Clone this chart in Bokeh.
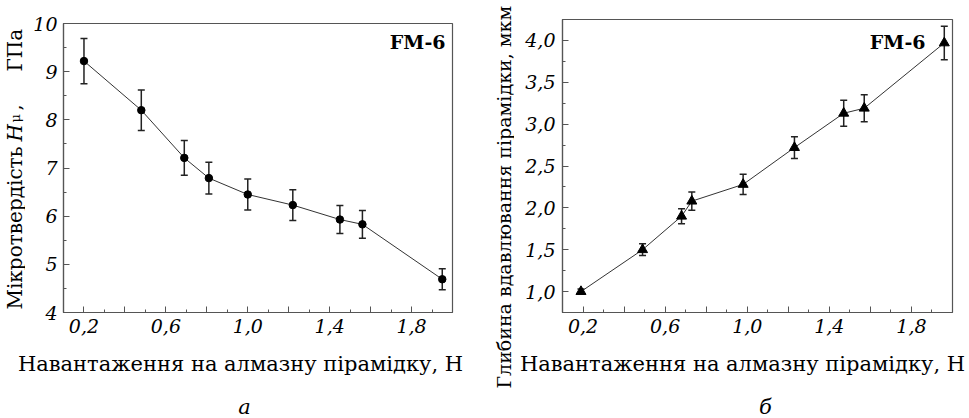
import math
from bokeh.plotting import figure
from bokeh.models import (ColumnDataSource, Whisker, TeeHead, FixedTicker,
                          CustomJSTickFormatter, Label, Range1d)
from bokeh.layouts import row, column
from bokeh.embed import file_html
from bokeh.resources import INLINE

# ---- data (panel а): microhardness vs load ----
load_a = [0.20, 0.48, 0.69, 0.81, 1.00, 1.22, 1.45, 1.56, 1.95]
hardness = [9.22, 8.20, 7.21, 6.79, 6.45, 6.23, 5.93, 5.83, 4.69]
hardness_err = [0.47, 0.42, 0.36, 0.33, 0.32, 0.32, 0.29, 0.29, 0.22]

# ---- data (panel б): indentation depth vs load ----
load_b = [0.19, 0.49, 0.68, 0.73, 0.98, 1.23, 1.47, 1.57, 1.96]
depth = [1.00, 1.50, 1.90, 2.08, 2.28, 2.72, 3.13, 3.19, 3.97]
depth_err = [0.03, 0.07, 0.09, 0.11, 0.12, 0.13, 0.155, 0.16, 0.20]

# ---- ticks ----
x_major = [0.2, 0.4, 0.6, 0.8, 1.0, 1.2, 1.4, 1.6, 1.8]
x_minor = [0.1, 0.3, 0.5, 0.7, 0.9, 1.1, 1.3, 1.5, 1.7, 1.9]
ya_major = [4, 5, 6, 7, 8, 9, 10]
ya_minor = [4.5, 5.5, 6.5, 7.5, 8.5, 9.5]
yb_major = [1.0, 1.5, 2.0, 2.5, 3.0, 3.5, 4.0]
yb_minor = [0.75, 1.25, 1.75, 2.25, 2.75, 3.25, 3.75, 4.25]

sample_name = "FM-6"
x_title = "Навантаження на алмазну пірамідку, Н"
ya_title_parts = ["Мікротвердість", "H", "μ", ",", "ГПа"]
yb_title = "Глибина вдавлювання пірамідки, мкм"
captions = ["а", "б"]

SERIF = "DejaVu Serif"
AX = "#555555"
TOP_H = 345
BOT_H = 418 - TOP_H
SHIFT = 6  # Label baseline correction (px)


def make_panel(width, height, xr, yr, yticks, yminor, yfmt, borders):
    left, right, top, bottom = borders
    p = figure(width=width, height=height, x_range=Range1d(*xr), y_range=Range1d(*yr),
               output_backend="svg", toolbar_location=None, frame_align=False,
               min_border_left=left, min_border_right=right,
               min_border_top=top, min_border_bottom=bottom)
    p.xgrid.visible = False
    p.ygrid.visible = False
    p.outline_line_color = AX
    p.outline_line_width = 1.2
    p.background_fill_color = "white"
    p.border_fill_color = "white"

    p.xaxis.ticker = FixedTicker(ticks=x_major, minor_ticks=x_minor)
    p.xaxis.formatter = CustomJSTickFormatter(
        code="return (Math.round(tick*10) % 4 == 2) ? tick.toFixed(1).replace('.', ',') : '';")
    p.yaxis.ticker = FixedTicker(ticks=yticks, minor_ticks=yminor)
    p.yaxis.formatter = CustomJSTickFormatter(code=yfmt)

    for ax in (p.xaxis, p.yaxis):
        ax.axis_line_color = AX
        ax.axis_line_width = 1.2
        ax.major_tick_line_color = AX
        ax.minor_tick_line_color = AX
        ax.major_tick_in = 6
        ax.major_tick_out = 0
        ax.minor_tick_in = 3
        ax.minor_tick_out = 0
        ax.major_label_text_font = SERIF
        ax.major_label_text_font_style = "italic"
        ax.major_label_text_font_size = "19px"
        ax.major_label_text_color = "black"
    p.xaxis.major_label_standoff = 6
    p.yaxis.major_label_standoff = 6
    return p


def text_strip(width, height):
    s = figure(width=width, height=height, x_range=Range1d(0, width), y_range=Range1d(0, height),
               output_backend="svg", toolbar_location=None, frame_align=False,
               min_border_left=0, min_border_right=0, min_border_top=0, min_border_bottom=0,
               x_axis_type=None, y_axis_type=None)
    s.xgrid.visible = False
    s.ygrid.visible = False
    s.outline_line_color = None
    s.background_fill_color = "white"
    s.border_fill_color = "white"
    return s


def add_text(fig, x, y, txt, size, style="normal", angle=0.0, align="left"):
    fig.add_layout(Label(x=x, y=y, x_units="screen", y_units="screen", text=txt, angle=angle,
                         text_font=SERIF, text_font_style=style, text_font_size=size,
                         text_align=align, text_baseline="alphabetic", text_color="black"))


# ---------------- panel а ----------------
YA_W = 25
pa = make_panel(480 - YA_W, TOP_H, (0.1, 2.0), (4, 10), ya_major, ya_minor,
                "return tick.toFixed(0);", (63 - YA_W, 28, 23, 33))
src_a = ColumnDataSource(dict(x=load_a, y=hardness,
                              upper=[v + e for v, e in zip(hardness, hardness_err)],
                              lower=[v - e for v, e in zip(hardness, hardness_err)]))
pa.line("x", "y", source=src_a, line_color="#333333", line_width=1)
pa.add_layout(Whisker(source=src_a, base="x", upper="upper", lower="lower",
                      line_color="#222222", line_width=1.5,
                      upper_head=TeeHead(size=7, line_color="#222222", line_width=1.5),
                      lower_head=TeeHead(size=7, line_color="#222222", line_width=1.5)))
pa.scatter("x", "y", source=src_a, marker="circle", size=7.5, color="black")
add_text(pa, 382, 265 + SHIFT, sample_name, "19px", style="bold", align="right")

# left y-title strip (rotated pieces; baseline near x=20)
ya_strip = text_strip(YA_W, TOP_H)
ya_pos = [(20, 36, "normal", "20px"), (20, 204, "italic", "20px"),
          (21, 223, "normal", "13px"), (19, 235, "normal", "19px"),
          (20, 274, "normal", "20px")]
for txt, (lx, ly, st, fs) in zip(ya_title_parts, ya_pos):
    add_text(ya_strip, lx - SHIFT, ly, txt, fs, style=st, angle=math.pi / 2)

# bottom strip (x title + caption а)
xa_strip = text_strip(480, BOT_H)
add_text(xa_strip, 240, 49 + SHIFT, x_title, "21px", align="center")
add_text(xa_strip, 244, 6 + SHIFT, captions[0], "21px", style="italic", align="center")

# ---------------- middle strip: y title of panel б ----------------
yb_strip = text_strip(34, 418)
add_text(yb_strip, 29 - SHIFT, 418 - 388, yb_title, "19px", angle=math.pi / 2)

# ---------------- panel б ----------------
pb = make_panel(455, TOP_H, (0.1, 2.0), (0.75, 4.25), yb_major, yb_minor,
                "return tick.toFixed(1).replace('.', ',');", (48, 17, 19, 33))
pb.yaxis.major_label_standoff = 7
src_b = ColumnDataSource(dict(x=load_b, y=depth,
                              upper=[v + e for v, e in zip(depth, depth_err)],
                              lower=[v - e for v, e in zip(depth, depth_err)]))
pb.line("x", "y", source=src_b, line_color="#333333", line_width=1)
pb.add_layout(Whisker(source=src_b, base="x", upper="upper", lower="lower",
                      line_color="#222222", line_width=1.5,
                      upper_head=TeeHead(size=7, line_color="#222222", line_width=1.5),
                      lower_head=TeeHead(size=7, line_color="#222222", line_width=1.5)))
pb.scatter("x", "y", source=src_b, marker="triangle", size=10, color="black")
add_text(pb, 363, 265 + SHIFT, sample_name, "19px", style="bold", align="right")

xb_strip = text_strip(455, BOT_H)
add_text(xb_strip, 228, 49 + SHIFT, x_title, "21px", align="center")
add_text(xb_strip, 251, 6 + SHIFT, captions[1], "21px", style="italic", align="center")

layout = row(column(row(ya_strip, pa), xa_strip), yb_strip, column(pb, xb_strip))
open("out.html", "w").write(file_html(layout, INLINE))
